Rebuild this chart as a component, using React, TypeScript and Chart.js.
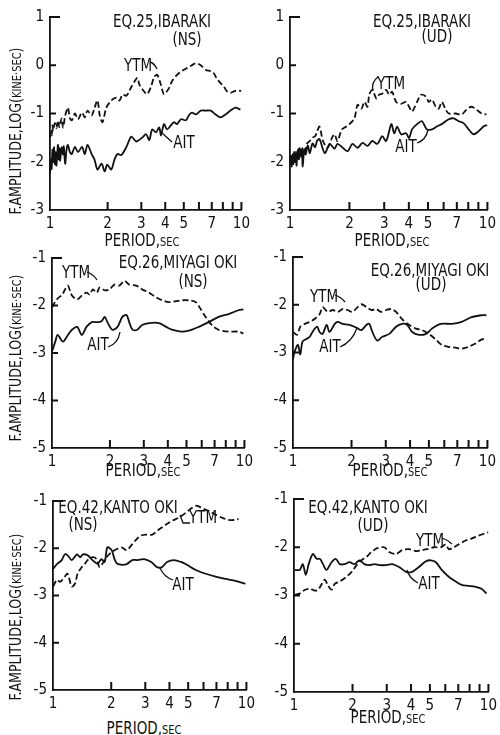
import React, { useEffect, useRef } from "react";
import { Chart, registerables } from "chart.js";

Chart.register(...registerables);

type Pt = [number, number];

// ---------- data: [period (sec), log amplitude] ----------
const p1Ytm: Pt[] = [
  [1.0, -1.5], [1.01, -1.38], [1.02, -1.45], [1.03, -1.25], [1.04, -1.35], [1.06, -1.2], [1.08, -1.3], [1.1, -1.15],
  [1.12, -1.28], [1.15, -1.1], [1.17, -1.29], [1.2, -1.05], [1.24, -0.88], [1.27, -1.1], [1.3, -1.14], [1.35, -1.0],
  [1.4, -1.12], [1.47, -0.98], [1.52, -1.08], [1.57, -0.94], [1.65, -1.04], [1.71, -0.88], [1.77, -0.73], [1.82, -1.04],
  [1.88, -1.18], [1.97, -0.88], [2.09, -0.73], [2.22, -0.67], [2.31, -0.73], [2.39, -0.61], [2.51, -0.63], [2.66, -0.45],
  [2.86, -0.26], [2.93, -0.4], [3.11, -0.55], [3.22, -0.6], [3.38, -0.43], [3.5, -0.24], [3.63, -0.2], [3.8, -0.41],
  [3.94, -0.6], [4.19, -0.47], [4.34, -0.33], [4.61, -0.2], [4.89, -0.12], [5.19, -0.06], [5.51, 0.0], [5.78, 0.04],
  [6.13, 0.0], [6.51, -0.1], [6.91, -0.12], [7.16, -0.16], [7.42, -0.27], [7.78, -0.37], [8.07, -0.43], [8.36, -0.53],
  [8.77, -0.57], [9.31, -0.53], [10.0, -0.53],
];
const p1Ait: Pt[] = [
  [1.0, -2.25], [1.01, -1.95], [1.02, -2.15], [1.03, -1.75], [1.04, -2.0], [1.05, -1.7], [1.06, -2.05], [1.07, -1.8],
  [1.08, -2.08], [1.1, -1.65], [1.11, -1.95], [1.12, -1.72], [1.13, -1.98], [1.15, -1.7], [1.17, -1.85], [1.18, -1.68],
  [1.2, -2.04], [1.22, -1.75], [1.24, -1.65], [1.27, -1.8], [1.3, -1.84], [1.35, -1.69], [1.4, -1.8], [1.47, -1.69],
  [1.52, -1.84], [1.57, -1.65], [1.65, -1.84], [1.71, -1.96], [1.77, -2.16], [1.86, -2.04], [1.93, -2.2], [1.99, -2.06],
  [2.09, -2.16], [2.17, -1.96], [2.25, -1.84], [2.36, -1.86], [2.51, -1.69], [2.66, -1.48], [2.82, -1.58], [3.03, -1.5],
  [3.18, -1.43], [3.3, -1.55], [3.42, -1.33], [3.58, -1.39], [3.72, -1.29], [3.8, -1.45], [3.94, -1.22], [4.09, -1.33],
  [4.29, -1.24], [4.44, -1.18], [4.61, -1.22], [4.83, -1.12], [5.13, -1.14], [5.31, -1.04], [5.51, -0.98], [5.78, -1.02],
  [6.13, -0.94], [6.51, -0.94], [6.91, -0.94], [7.33, -1.02], [7.78, -1.08], [8.26, -1.02], [8.77, -0.94], [9.31, -0.88],
  [9.88, -0.92],
];
const p2Ytm: Pt[] = [
  [1.0, -1.94], [1.01, -2.08], [1.02, -1.9], [1.03, -2.05], [1.04, -1.82], [1.05, -1.98], [1.06, -1.8], [1.08, -1.95],
  [1.1, -1.75], [1.12, -1.71], [1.14, -1.88], [1.16, -1.7], [1.19, -1.78], [1.22, -1.62], [1.26, -1.57], [1.3, -1.5],
  [1.34, -1.47], [1.37, -1.38], [1.41, -1.27], [1.47, -1.57], [1.55, -1.71], [1.63, -1.51], [1.68, -1.43], [1.74, -1.57],
  [1.83, -1.33], [1.93, -1.27], [2.0, -1.22], [2.12, -1.1], [2.2, -0.82], [2.3, -0.9], [2.38, -0.76], [2.47, -0.86],
  [2.52, -0.61], [2.61, -0.51], [2.74, -0.69], [2.83, -0.61], [2.93, -0.59], [3.07, -0.51], [3.18, -0.61], [3.29, -0.55],
  [3.45, -0.76], [3.65, -0.8], [3.87, -0.76], [4.01, -0.86], [4.15, -0.96], [4.4, -0.76], [4.61, -0.61], [4.88, -0.65],
  [5.05, -0.76], [5.23, -0.71], [5.48, -0.86], [5.67, -0.9], [5.87, -0.76], [6.15, -0.92], [6.37, -1.0], [6.91, -1.0],
  [7.4, -1.02], [7.84, -0.92], [8.31, -0.86], [8.81, -0.92], [9.33, -1.0], [9.89, -1.02],
];
const p2Ait: Pt[] = [
  [1.0, -2.04], [1.01, -1.88], [1.02, -2.1], [1.03, -1.85], [1.04, -2.05], [1.05, -1.8], [1.06, -2.0], [1.07, -1.82],
  [1.08, -2.08], [1.09, -1.78], [1.11, -1.95], [1.12, -1.72], [1.14, -1.9], [1.15, -1.75], [1.16, -2.1], [1.18, -1.74],
  [1.2, -1.85], [1.23, -1.66], [1.26, -1.82], [1.3, -1.62], [1.34, -1.7], [1.37, -1.57], [1.41, -1.53], [1.5, -1.82],
  [1.59, -1.63], [1.68, -1.73], [1.74, -1.63], [1.85, -1.71], [1.96, -1.78], [2.07, -1.63], [2.2, -1.71], [2.33, -1.61],
  [2.47, -1.67], [2.61, -1.57], [2.77, -1.63], [2.93, -1.47], [3.07, -1.57], [3.26, -1.22], [3.37, -1.41], [3.49, -1.27],
  [3.65, -1.43], [3.87, -1.41], [4.01, -1.51], [4.15, -1.33], [4.4, -1.22], [4.66, -1.16], [4.94, -1.33], [5.23, -1.33],
  [5.54, -1.27], [5.87, -1.22], [6.37, -1.12], [6.75, -1.1], [7.15, -1.16], [7.57, -1.2], [8.03, -1.33], [8.51, -1.43],
  [9.01, -1.37], [9.55, -1.27], [10.0, -1.24],
];
const p3Ytm: Pt[] = [
  [1.0, -2.04], [1.06, -1.87], [1.13, -1.77], [1.17, -1.66], [1.21, -1.58], [1.27, -1.79], [1.35, -1.87], [1.43, -1.79],
  [1.51, -1.73], [1.57, -1.77], [1.63, -1.66], [1.71, -1.73], [1.77, -1.62], [1.88, -1.68], [1.99, -1.66], [2.11, -1.56],
  [2.24, -1.58], [2.38, -1.48], [2.52, -1.56], [2.74, -1.58], [2.94, -1.66], [3.2, -1.73], [3.48, -1.83], [3.73, -1.89],
  [4.06, -1.93], [4.41, -1.91], [4.73, -1.89], [5.14, -1.89], [5.59, -1.93], [5.93, -2.08], [6.29, -2.24], [6.76, -2.41],
  [7.34, -2.51], [8.27, -2.55], [9.31, -2.55], [9.88, -2.59],
];
const p3Ait: Pt[] = [
  [1.0, -2.97], [1.04, -2.76], [1.07, -2.62], [1.14, -2.76], [1.21, -2.62], [1.27, -2.51], [1.35, -2.45], [1.43, -2.62],
  [1.51, -2.45], [1.61, -2.35], [1.71, -2.35], [1.81, -2.33], [1.88, -2.24], [1.94, -2.35], [2.06, -2.51], [2.19, -2.45],
  [2.32, -2.24], [2.44, -2.2], [2.52, -2.35], [2.62, -2.51], [2.77, -2.51], [2.94, -2.41], [3.2, -2.37], [3.6, -2.37],
  [3.92, -2.45], [4.2, -2.51], [4.68, -2.55], [5.14, -2.53], [5.79, -2.45], [6.52, -2.35], [7.34, -2.24], [8.27, -2.18],
  [9.31, -2.1], [9.88, -2.08],
];
const p4Ytm: Pt[] = [
  [1.0, -2.57], [1.05, -2.63], [1.09, -2.46], [1.15, -2.4], [1.22, -2.36], [1.29, -2.3], [1.37, -2.2], [1.42, -2.05],
  [1.51, -2.15], [1.6, -2.11], [1.7, -2.15], [1.8, -2.09], [1.91, -2.11], [2.02, -2.15], [2.15, -2.05], [2.25, -1.99],
  [2.39, -2.05], [2.53, -2.11], [2.68, -2.09], [2.84, -2.15], [3.02, -2.11], [3.2, -2.09], [3.39, -2.15], [3.64, -2.3],
  [3.95, -2.42], [4.29, -2.5], [4.61, -2.53], [5.0, -2.61], [5.43, -2.73], [5.82, -2.84], [6.32, -2.88], [6.87, -2.9],
  [7.37, -2.92], [8.0, -2.88], [8.68, -2.81], [9.31, -2.73], [9.88, -2.71],
];
const p4Ait: Pt[] = [
  [1.0, -3.14], [1.02, -2.98], [1.06, -2.84], [1.09, -3.04], [1.12, -2.77], [1.18, -2.71], [1.22, -2.67], [1.26, -2.57],
  [1.33, -2.46], [1.37, -2.57], [1.42, -2.61], [1.49, -2.42], [1.54, -2.57], [1.64, -2.4], [1.7, -2.36], [1.8, -2.4],
  [1.95, -2.42], [2.12, -2.48], [2.25, -2.53], [2.39, -2.42], [2.47, -2.4], [2.56, -2.57], [2.71, -2.75], [2.88, -2.67],
  [3.13, -2.61], [3.39, -2.46], [3.64, -2.4], [3.86, -2.42], [4.1, -2.57], [4.45, -2.63], [4.83, -2.61], [5.18, -2.5],
  [5.75, -2.4], [6.55, -2.4], [7.37, -2.36], [8.28, -2.26], [9.31, -2.22], [9.88, -2.22],
];
const p5Ytm: Pt[] = [
  [1.0, -2.81], [1.05, -2.67], [1.09, -2.71], [1.15, -2.6], [1.19, -2.54], [1.25, -2.81], [1.3, -2.75], [1.34, -2.54],
  [1.41, -2.4], [1.46, -2.33], [1.51, -2.25], [1.6, -2.19], [1.68, -2.23], [1.74, -2.4], [1.8, -2.33], [1.89, -2.19],
  [2.01, -2.08], [2.13, -2.02], [2.26, -1.98], [2.4, -2.04], [2.54, -1.94], [2.7, -1.81], [2.86, -1.73], [3.03, -1.71],
  [3.26, -1.71], [3.54, -1.6], [3.84, -1.5], [4.12, -1.42], [4.48, -1.35], [4.86, -1.25], [5.22, -1.15], [5.54, -1.1],
  [5.88, -1.15], [6.38, -1.21], [6.93, -1.29], [7.45, -1.35], [8.09, -1.4], [8.78, -1.4], [9.1, -1.38],
];
const p5Ait: Pt[] = [
  [1.0, -2.44], [1.05, -2.33], [1.11, -2.25], [1.15, -2.13], [1.19, -2.15], [1.25, -2.25], [1.33, -2.13], [1.38, -2.19],
  [1.43, -2.13], [1.51, -2.15], [1.6, -2.25], [1.7, -2.33], [1.78, -2.23], [1.85, -2.29], [1.91, -1.98], [2.01, -2.04],
  [2.08, -2.23], [2.15, -2.33], [2.29, -2.35], [2.42, -2.33], [2.57, -2.25], [2.73, -2.25], [2.96, -2.23], [3.22, -2.29],
  [3.45, -2.4], [3.66, -2.4], [3.89, -2.29], [4.22, -2.25], [4.59, -2.29], [4.92, -2.35], [5.47, -2.46], [6.16, -2.54],
  [6.93, -2.6], [7.8, -2.65], [8.78, -2.69], [9.88, -2.75],
];
const p6Ytm: Pt[] = [
  [1.01, -2.98], [1.07, -2.96], [1.14, -2.88], [1.21, -2.86], [1.28, -2.9], [1.33, -2.88], [1.39, -2.76], [1.44, -2.67],
  [1.49, -2.78], [1.56, -2.88], [1.62, -2.76], [1.72, -2.71], [1.86, -2.61], [1.98, -2.51], [2.1, -2.37], [2.22, -2.27],
  [2.36, -2.2], [2.5, -2.1], [2.68, -2.02], [2.91, -2.0], [3.09, -2.1], [3.35, -2.14], [3.6, -2.06], [3.91, -2.04],
  [4.24, -2.08], [4.5, -2.06], [4.83, -2.04], [5.24, -2.0], [5.69, -2.0], [6.04, -1.94], [6.25, -2.04], [6.63, -2.0],
  [7.03, -1.94], [7.64, -1.86], [8.19, -1.82], [8.89, -1.76], [10.0, -1.69],
];
const p6Ait: Pt[] = [
  [1.01, -2.47], [1.07, -2.47], [1.11, -2.35], [1.15, -2.57], [1.19, -2.35], [1.25, -2.14], [1.31, -2.24], [1.36, -2.24],
  [1.41, -2.35], [1.47, -2.47], [1.56, -2.31], [1.64, -2.24], [1.72, -2.35], [1.82, -2.35], [1.93, -2.31], [2.05, -2.35],
  [2.17, -2.27], [2.3, -2.35], [2.44, -2.37], [2.59, -2.35], [2.75, -2.37], [2.98, -2.37], [3.2, -2.35], [3.47, -2.41],
  [3.77, -2.51], [4.05, -2.51], [4.39, -2.41], [4.77, -2.29], [5.06, -2.27], [5.37, -2.31], [5.75, -2.47], [6.25, -2.61],
  [6.79, -2.71], [7.28, -2.78], [7.91, -2.8], [8.59, -2.82], [9.21, -2.86], [9.77, -2.96],
];

const xTickValues = [1, 2, 3, 4, 5, 6, 7, 8, 9, 10];
const xTickLabels = [1, 2, 3, 4, 5, 7, 10];
const topYTicks = [1, 0, -1, -2, -3];
const lowYTicks = [-1, -2, -3, -4, -5];

// ---------- layout ----------
const FONT = '"Liberation Sans Narrow", "DejaVu Sans Condensed", "DejaVu Sans", sans-serif';
const INK = "#111111";
const PADL = 36, PADT = 12, PADR = 12, PADB = 26;

interface PanelDef {
  left: number; top: number; right: number; bottom: number;
  yMin: number; yMax: number; yTicks: number[];
  ytm: Pt[]; ait: Pt[];
}

const panels: PanelDef[] = [
  { left: 50, top: 14, right: 243, bottom: 210, yMin: -3, yMax: 1, yTicks: topYTicks, ytm: p1Ytm, ait: p1Ait },
  { left: 290, top: 14, right: 489, bottom: 210, yMin: -3, yMax: 1, yTicks: topYTicks, ytm: p2Ytm, ait: p2Ait },
  { left: 52, top: 255, right: 246, bottom: 448, yMin: -5, yMax: -1, yTicks: lowYTicks, ytm: p3Ytm, ait: p3Ait },
  { left: 293, top: 254, right: 489, bottom: 448, yMin: -5, yMax: -1, yTicks: lowYTicks, ytm: p4Ytm, ait: p4Ait },
  { left: 53, top: 498, right: 248, bottom: 690, yMin: -5, yMax: -1, yTicks: lowYTicks, ytm: p5Ytm, ait: p5Ait },
  { left: 294, top: 496, right: 490, bottom: 692, yMin: -5, yMax: -1, yTicks: lowYTicks, ytm: p6Ytm, ait: p6Ait },
];

interface Label { text: string; x: number; y: number; size?: number; }
const labels: Label[] = [
  { text: "EQ.25,IBARAKI", x: 162, y: 22 }, { text: "(NS)", x: 187, y: 40 },
  { text: "YTM", x: 138, y: 66 }, { text: "AIT", x: 184, y: 143 },
  { text: "EQ.25,IBARAKI", x: 422, y: 22 }, { text: "(UD)", x: 437, y: 37 },
  { text: "YTM", x: 391, y: 84 }, { text: "AIT", x: 406, y: 147 },
  { text: "EQ.26,MIYAGI OKI", x: 178, y: 263 }, { text: "(NS)", x: 193, y: 282 },
  { text: "YTM", x: 76, y: 273 }, { text: "AIT", x: 98, y: 345 },
  { text: "EQ.26,MIYAGI OKI", x: 430, y: 271 }, { text: "(UD)", x: 431, y: 285 },
  { text: "YTM", x: 324, y: 297 }, { text: "AIT", x: 330, y: 347 },
  { text: "EQ.42,KANTO OKI", x: 118, y: 508 }, { text: "(NS)", x: 83, y: 525 },
  { text: "YTM", x: 203, y: 518 }, { text: "AIT", x: 183, y: 585 },
  { text: "EQ.42,KANTO OKI", x: 368, y: 508 }, { text: "(UD)", x: 373, y: 526 },
  { text: "YTM", x: 430, y: 541 }, { text: "AIT", x: 429, y: 584 },
];
const periodTitles = [
  { x: 142, y: 241 }, { x: 392, y: 241 }, { x: 143, y: 471 },
  { x: 390, y: 471 }, { x: 144, y: 729 }, { x: 388, y: 718 },
];
const yTitles = [{ x: 15, y: 131 }, { x: 15, y: 358 }, { x: 15, y: 617 }];
const leaders: string[] = [
  "M150,62 Q154,63 157,69", "M162,133 L172,142",
  "M378,77 Q371,82 373,91", "M417,143 Q426,140 428,130",
  "M87,272 Q93,274 97,280", "M108,347 Q118,344 120,332",
  "M335,295 Q341,297 345,302", "M340,347 Q352,342 357,328",
  "M180,515 L183,523 L190,523", "M173,580 Q164,577 160,568",
  "M442,538 Q448,540 452,544", "M418,583 Q409,578 407,570",
];

// tick marks drawn on the inner side of both axes, from the scales' own pixels
const innerTicks = {
  id: "innerTicks",
  afterDraw(chart: any) {
    const ctx = chart.ctx;
    const a = chart.chartArea;
    const xs = chart.scales.x;
    const ys = chart.scales.y;
    ctx.save();
    ctx.strokeStyle = INK;
    ctx.lineWidth = 2;
    ctx.beginPath();
    for (const v of xTickValues) {
      if (v === 1) continue;
      const px = xs.getPixelForValue(v);
      ctx.moveTo(px, a.bottom);
      ctx.lineTo(px, a.bottom - 8);
    }
    for (const t of ys.ticks) {
      if (t.value === ys.min) continue;
      const py = ys.getPixelForValue(t.value);
      const len = t.value === ys.max ? 10 : 6;
      ctx.moveTo(a.left, py);
      ctx.lineTo(a.left + len, py);
    }
    ctx.stroke();
    ctx.restore();
  },
};

function PanelChart({ def }: { def: PanelDef }) {
  const ref = useRef<HTMLCanvasElement>(null);
  const cw = def.right - def.left + PADL + PADR;
  const ch = def.bottom - def.top + PADT + PADB;
  useEffect(() => {
    const chart = new Chart(ref.current as HTMLCanvasElement, {
      type: "line",
      data: {
        datasets: [
          {
            label: "YTM",
            data: def.ytm.map(([x, y]) => ({ x, y })),
            borderColor: INK, borderWidth: 1.8, borderDash: [6, 3],
            pointRadius: 0, tension: 0.3, fill: false,
          },
          {
            label: "AIT",
            data: def.ait.map(([x, y]) => ({ x, y })),
            borderColor: INK, borderWidth: 1.8,
            pointRadius: 0, tension: 0.3, fill: false,
          },
        ],
      },
      options: {
        responsive: false,
        animation: false,
        devicePixelRatio: 1,
        layout: { padding: { top: PADT, right: PADR, left: 0, bottom: 0 } },
        plugins: { legend: { display: false }, tooltip: { enabled: false } },
        scales: {
          x: {
            type: "logarithmic", min: 1, max: 10,
            afterBuildTicks: (s: any) => { s.ticks = xTickValues.map((v) => ({ value: v })); },
            afterFit: (s: any) => { s.height = PADB; },
            ticks: {
              autoSkip: false, maxRotation: 0, minRotation: 0, padding: 5, color: INK,
              font: { family: FONT, size: 15 },
              callback: (v: any) => (xTickLabels.includes(Number(v)) ? String(v) : ""),
            },
            grid: { display: false, drawTicks: false },
            border: { display: true, color: INK, width: 1.8 },
          },
          y: {
            type: "linear", min: def.yMin, max: def.yMax,
            afterBuildTicks: (s: any) => { s.ticks = def.yTicks.map((v) => ({ value: v })); },
            afterFit: (s: any) => { s.width = PADL; },
            ticks: {
              padding: 6, color: INK, font: { family: FONT, size: 15 },
              callback: (v: any) => String(v),
            },
            grid: { display: false, drawTicks: false },
            border: { display: true, color: INK, width: 1.8 },
          },
        },
      } as any,
      plugins: [innerTicks],
    });
    return () => chart.destroy();
  }, []);
  return (
    <canvas
      ref={ref}
      width={cw}
      height={ch}
      style={{ position: "absolute", left: def.left - PADL, top: def.top - PADT, width: cw, height: ch }}
    />
  );
}

const textBase: React.CSSProperties = {
  position: "absolute",
  fontFamily: FONT,
  color: INK,
  whiteSpace: "nowrap",
  lineHeight: 1,
};

export default function App() {
  return (
    <div style={{ position: "absolute", left: 0, top: 0, width: 500, height: 735, background: "#fff", overflow: "hidden" }}>
      {panels.map((p, i) => (
        <PanelChart key={i} def={p} />
      ))}
      {labels.map((l, i) => (
        <div
          key={"l" + i}
          style={{ ...textBase, left: l.x, top: l.y, fontSize: l.size ?? 15, transform: "translate(-50%,-50%) scaleY(1.2)" }}
        >
          {l.text}
        </div>
      ))}
      {periodTitles.map((t, i) => (
        <div
          key={"p" + i}
          style={{ ...textBase, left: t.x, top: t.y, fontSize: 15, transform: "translate(-50%,-50%) scaleY(1.15)" }}
        >
          PERIOD,<span style={{ fontSize: 11 }}>SEC</span>
        </div>
      ))}
      {yTitles.map((t, i) => (
        <div
          key={"y" + i}
          style={{ ...textBase, left: t.x, top: t.y, fontSize: 14, transform: "translate(-50%,-50%) rotate(-90deg) scaleY(1.15)" }}
        >
          F.AMPLITUDE,LOG(<span style={{ fontSize: 11 }}>KINE·SEC</span>)
        </div>
      ))}
      <svg width={500} height={735} style={{ position: "absolute", left: 0, top: 0, pointerEvents: "none" }}>
        {leaders.map((d, i) => (
          <path key={i} d={d} fill="none" stroke={INK} strokeWidth={1.3} />
        ))}
      </svg>
    </div>
  );
}
